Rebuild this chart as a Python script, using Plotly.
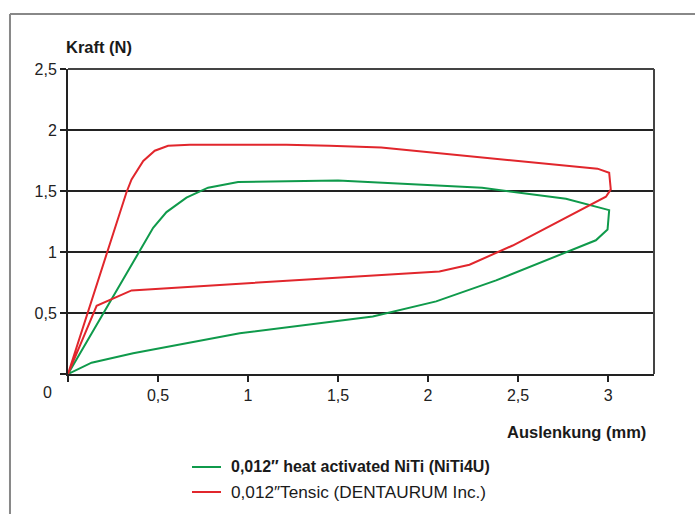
import plotly.graph_objects as go

# Force-deflection loops (Auslenkung in mm, Kraft in N)
niti_x = [0, 0.473, 0.547, 0.658, 0.778, 0.945, 1.5, 2.30, 2.766, 3.006, 2.997,
          2.932, 2.378, 2.045, 1.693, 0.954, 0.362, 0.131, 0]
niti_y = [0, 1.198, 1.327, 1.445, 1.527, 1.573, 1.587, 1.527, 1.436, 1.343, 1.184,
          1.096, 0.767, 0.595, 0.471, 0.334, 0.17, 0.093, 0]

tensic_x = [0, 0.325, 0.353, 0.418, 0.482, 0.556, 0.677, 1.213, 1.453, 1.74, 2.941,
            3.006, 3.015, 2.988, 2.47, 2.23, 2.063, 0.353, 0.159, 0]
tensic_y = [0, 1.49, 1.595, 1.746, 1.83, 1.87, 1.88, 1.88, 1.87, 1.856, 1.683,
            1.65, 1.513, 1.453, 1.053, 0.896, 0.841, 0.685, 0.559, 0]

series_names = ["0,012″ heat activated NiTi (NiTi4U)", "0,012″Tensic (DENTAURUM Inc.)"]

x_ticks = [0, 0.5, 1, 1.5, 2, 2.5, 3]
x_labels = ["", "0,5", "1", "1,5", "2", "2,5", "3"]
y_ticks = [0, 0.5, 1, 1.5, 2, 2.5]
y_labels = ["", "0,5", "1", "1,5", "2", "2,5"]

GREEN = "#0f9a4b"
RED = "#e1262c"
FONT = "Liberation Sans, Arial, Helvetica, sans-serif"

fig = go.Figure()
fig.add_trace(go.Scatter(x=niti_x, y=niti_y, mode="lines",
                         line=dict(color=GREEN, width=2), name=series_names[0]))
fig.add_trace(go.Scatter(x=tensic_x, y=tensic_y, mode="lines",
                         line=dict(color=RED, width=2), name=series_names[1]))

fig.update_layout(
    width=695, height=514,
    margin=dict(l=68, r=41, t=69, b=140),
    paper_bgcolor="white", plot_bgcolor="white",
    font=dict(family=FONT, size=16, color="#222"),
    showlegend=False,
    xaxis=dict(range=[0, 3.255], tickvals=x_ticks, ticktext=x_labels,
               ticks="outside", ticklen=6, tickwidth=2, tickcolor="#222",
               showline=True, linecolor="#222", linewidth=2,
               showgrid=False, zeroline=False, fixedrange=True,
               tickfont=dict(family=FONT, size=16, color="#222")),
    yaxis=dict(range=[0, 2.5], tickvals=y_ticks, ticktext=y_labels,
               ticks="outside", ticklen=6, tickwidth=2, tickcolor="#222",
               showline=True, linecolor="#222", linewidth=2,
               showgrid=True, gridcolor="#222", gridwidth=1.5,
               zeroline=False, fixedrange=True,
               tickfont=dict(family=FONT, size=16, color="#222")),
)

# top and right border of the plot area
fig.add_shape(type="line", xref="paper", yref="paper", x0=0, x1=1, y0=1, y1=1,
              line=dict(color="#444", width=2))
fig.add_shape(type="line", xref="paper", yref="paper", x0=1, x1=1, y0=0, y1=1,
              line=dict(color="#444", width=2))

# outer frame (left and top edges)
fig.add_shape(type="line", xref="paper", yref="paper", x0=-0.099, x1=-0.099,
              y0=-0.6, y1=1.18, line=dict(color="#888", width=2))
fig.add_shape(type="line", xref="paper", yref="paper", x0=-0.099, x1=1.2,
              y0=1.18, y1=1.18, line=dict(color="#888", width=2))

# origin label and axis titles
fig.add_annotation(x=-0.035, y=-0.062, xref="paper", yref="paper", text="0",
                   showarrow=False, xanchor="center", yanchor="middle",
                   font=dict(family=FONT, size=16, color="#222"))
fig.add_annotation(x=-0.006, y=1.071, xref="paper", yref="paper", text="<b>Kraft (N)</b>",
                   showarrow=False, xanchor="left", yanchor="middle",
                   font=dict(family=FONT, size=16.5, color="#1a1a1a"))
fig.add_annotation(x=0.99, y=-0.19, xref="paper", yref="paper",
                   text="<b>Auslenkung (mm)</b>",
                   showarrow=False, xanchor="right", yanchor="middle",
                   font=dict(family=FONT, size=16.5, color="#1a1a1a"))

# legend below the chart: short line sample plus label per series
legend_rows = [
    (GREEN, "<b>" + series_names[0] + "</b>", 16.0, -0.3049),
    (RED, series_names[1], 17.2, -0.3869),
]
for color, label, size, yy in legend_rows:
    fig.add_shape(type="line", xref="paper", yref="paper",
                  x0=0.2116, x1=0.2611, y0=yy, y1=yy,
                  line=dict(color=color, width=2))
    fig.add_annotation(x=0.274, y=yy, xref="paper", yref="paper", text=label,
                       showarrow=False, xanchor="left", yanchor="middle",
                       font=dict(family=FONT, size=size, color="#1a1a1a"))

fig.write_html("out.html")
